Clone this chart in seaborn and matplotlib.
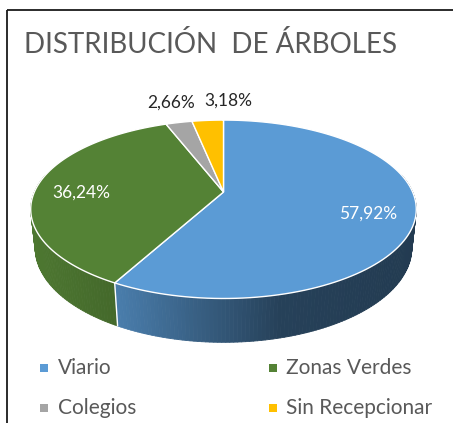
import numpy as np
import matplotlib
matplotlib.use("Agg")
import matplotlib.pyplot as plt
import seaborn as sns
from matplotlib.patches import Polygon, Rectangle
from matplotlib.collections import PolyCollection

categorias = ["Viario", "Zonas Verdes", "Colegios", "Sin Recepcionar"]
porcentajes = [57.92, 36.24, 2.66, 3.18]
colores = ["#5B9BD5", "#548235", "#A5A5A5", "#FFC000"]
titulo = "DISTRIBUCIÓN  DE ÁRBOLES"

sns.set_theme(style="white")
plt.rcParams['font.family'] = ['Lato', 'DejaVu Sans']

# perspectiva del "pastel 3D"
CX, CY = 223.5, 192.0
S, C = 0.454, 0.891
D, F, T = 4.6, 870.0, 0.23


def proj(theta, r=1.0, h=0.0):
    u = r * np.sin(theta)
    v = r * np.cos(theta)
    yc = v * S + h * C
    zc = D + v * C - h * S
    return CX + F * u / zc, CY - F * yc / zc


def sombra(x):
    return np.interp(x, [30, 120, 280, 420], [0.92, 0.80, 0.42, 0.38])


fig = plt.figure(figsize=(4.53, 4.23), dpi=100)
ax = fig.add_axes([0, 0, 1, 1])
ax.set_xlim(0, 453)
ax.set_ylim(423, 0)
ax.axis('off')

ax.add_patch(Rectangle((6.5, 10.5), 460, 430, fill=False, lw=1.3, ec="#1a1a1a"))

fracs = np.array(porcentajes) / sum(porcentajes)
bordes = np.concatenate([[0], np.cumsum(fracs)]) * 2 * np.pi
base_rgb = [np.array(matplotlib.colors.to_rgb(c)) for c in colores]

# paredes laterales
quads, qcols, prof = [], [], []
for i in range(len(porcentajes)):
    a0, a1 = bordes[i], bordes[i + 1]
    n = max(2, int(np.degrees(a1 - a0)))
    ts = np.linspace(a0, a1, n + 1)
    for t0, t1 in zip(ts[:-1], ts[1:]):
        tm = (t0 + t1) / 2
        if np.cos(tm) > 0.2:
            continue
        q = [proj(t0), proj(t1), proj(t1, 1, -T), proj(t0, 1, -T)]
        quads.append(q)
        xm = proj(tm)[0]
        qcols.append(tuple(np.clip(base_rgb[i] * sombra(xm), 0, 1)))
        prof.append(np.cos(tm))
orden = np.argsort(prof)[::-1]
pc = PolyCollection([quads[k] for k in orden], facecolors=[qcols[k] for k in orden],
                    edgecolors=[qcols[k] for k in orden], linewidths=0.6)
ax.add_collection(pc)

for a in bordes:
    if np.cos(a) < 0:
        x0, y0 = proj(a)
        x1, y1 = proj(a, 1, -T)
        ax.plot([x0, x1], [y0, y1], color="white", lw=1.0)

# cara superior
for i in range(len(porcentajes)):
    ts = np.linspace(bordes[i], bordes[i + 1], 120)
    pts = [proj(0, 0)] + [proj(t) for t in ts]
    ax.add_patch(Polygon(pts, closed=True, fc=colores[i], ec="white", lw=1.0))

# etiquetas de datos
dx_fuera = [0, 0, -8, 21]
for i, v in enumerate(porcentajes):
    mid = (bordes[i] + bordes[i + 1]) / 2
    txt = f"{v:.2f}%".replace(".", ",")
    if fracs[i] > 0.1:
        x, y = proj(mid, 0.76)
        ax.text(x, y + 5, txt, color="white", fontsize=12.5, ha="center", va="center")
    else:
        x, y = proj(mid)
        ax.text(x + dx_fuera[i], y - 20, txt, color="#262626", fontsize=12.5,
                ha="center", va="center")

ax.text(24, 53, titulo, fontsize=20, color="#595959", ha="left", va="baseline")

# leyenda
for i, (cat, col) in enumerate(zip(categorias, colores)):
    fila, colm = divmod(i, 2)
    x0 = 44 + colm * 228.5
    y0 = 368 + fila * 40
    ax.scatter([x0], [y0], marker="s", s=40, color=col, linewidths=0)
    ax.text(x0 + 14, y0, cat, fontsize=15, color="#595959", ha="left", va="center")

fig.savefig("out.png", dpi=100)
